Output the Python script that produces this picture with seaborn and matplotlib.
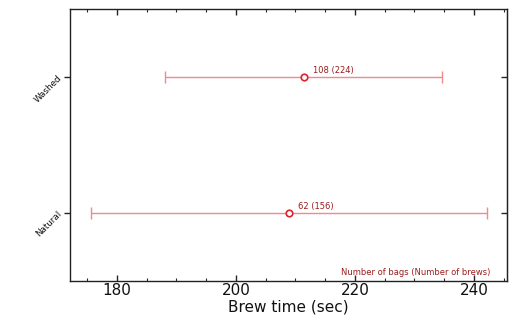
import matplotlib
matplotlib.use("Agg")
import matplotlib.pyplot as plt
import seaborn as sns
import pandas as pd
from matplotlib.ticker import MultipleLocator

sns.set_style("ticks")
plt.rcParams['font.family'] = ['DejaVu Sans']

categories = ["Natural", "Washed"]
means = [208.9, 211.4]
sds = [33.3, 23.3]
labels = ["62 (156)", "108 (224)"]
xticks = [180, 200, 220, 240]

df = pd.DataFrame({"process": categories, "mean": means, "sd": sds, "label": labels})
df["pos"] = range(len(df))

fig, ax = plt.subplots(figsize=(5.25, 3.19), dpi=100)
fig.subplots_adjust(left=0.134, right=0.965, top=0.971, bottom=0.12)

ax.errorbar(df["mean"], df["pos"], xerr=df["sd"], fmt="none",
            ecolor="#f4898b", elinewidth=1.0, capsize=4, capthick=1.0, zorder=2)
sns.scatterplot(data=df, x="mean", y="pos", ax=ax, marker="o", s=22,
                facecolor="white", edgecolor="#e0202a", linewidth=1.2, zorder=3)

for _, r in df.iterrows():
    ax.annotate(r["label"], (r["mean"], r["pos"]), xytext=(6.5, 1.5),
                textcoords="offset points", fontsize=6, color="#9b1c1c",
                ha="left", va="bottom")

ax.text(0.963, 0.015, "Number of bags (Number of brews)", transform=ax.transAxes,
        ha="right", va="bottom", fontsize=6, color="#9b1c1c")

ax.set_xlim(172.2, 245.5)
ax.set_ylim(-0.5, 1.5)
ax.set_xticks(xticks)
ax.xaxis.set_minor_locator(MultipleLocator(5))
ax.set_yticks(df["pos"])
ax.set_yticklabels(categories, rotation=45, fontsize=6.3, ha="right", va="center",
                   rotation_mode="anchor")
ax.tick_params(axis="x", which="major", direction="in", length=4, width=1,
               top=True, labelsize=11, pad=2, labelcolor="#111111")
ax.tick_params(axis="x", which="minor", direction="in", length=2.5, width=0.8, top=True)
ax.tick_params(axis="y", which="major", direction="out", length=4, width=1, left=True,
               labelcolor="#111111")
ax.set_xlabel("Brew time (sec)", fontsize=11, labelpad=1, color="#111111")
ax.set_ylabel("")
for s in ax.spines.values():
    s.set_visible(True)
    s.set_linewidth(1.0)
    s.set_color("#222222")

# right-side inward ticks
ax2 = ax.secondary_yaxis("right")
ax2.set_yticks(df["pos"])
ax2.set_yticklabels([])
ax2.tick_params(direction="in", length=4, width=1)

fig.savefig("out.png", dpi=100)
